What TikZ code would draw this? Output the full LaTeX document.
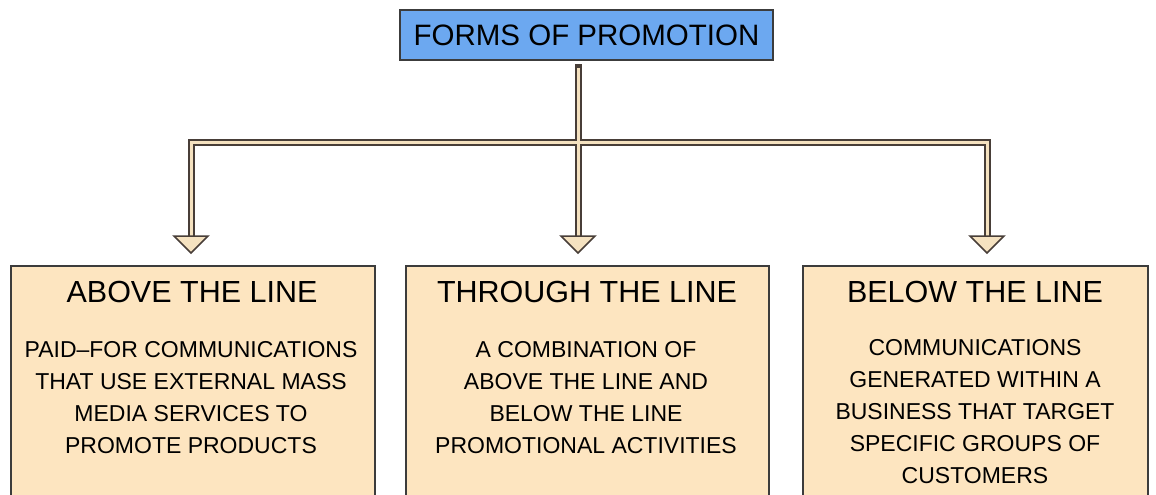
\documentclass[tikz,border=0pt]{standalone}
\usepackage{fontspec}
\setmainfont{Liberation Sans}
\usetikzlibrary{calc}
\definecolor{topblue}{RGB}{108,168,240}
\definecolor{peach}{RGB}{253,229,192}
\definecolor{cream}{RGB}{245,226,192}
\definecolor{darkline}{RGB}{72,62,56}
\definecolor{boxline}{RGB}{60,60,60}
\tikzset{
  box/.style={draw=boxline, line width=1.5pt, fill=peach, anchor=north west, inner sep=0pt},
  topbox/.style={draw=boxline, line width=1.5pt, fill=topblue, minimum width=373pt, minimum height=50pt, inner sep=0pt, font=\fontsize{29.5}{32}\selectfont},
  boxtitle/.style={font=\fontsize{30.5}{32}\selectfont, inner sep=0pt},
  boxbody/.style={font=\fontsize{23}{32}\selectfont, align=center, inner sep=0pt, anchor=north},
  outerline/.style={draw=darkline, line width=7pt, line cap=rect, line join=miter},
  innerline/.style={draw=cream, line width=3pt, line cap=butt, line join=miter},
  arrowhead/.style={draw=darkline, line width=1.5pt, fill=cream, line join=miter}
}
\begin{document}
\begin{tikzpicture}[x=1pt,y=-1pt]
\clip (0,0) rectangle (1156,495);
\fill[white] (0,0) rectangle (1156,495);
% boxes
\node[box, minimum width=364pt, minimum height=260pt] (boxA) at (10,265) {};
\node[box, minimum width=363pt, minimum height=260pt] (boxB) at (405,265) {};
\node[box, minimum width=345pt, minimum height=260pt] (boxC) at (802,265) {};
\node[topbox] (top) at (586.5,35) {FORMS OF PROMOTION};
% texts
\node[boxtitle] (tA) at (192,292) {ABOVE THE LINE};
\node[boxtitle] (tB) at (587,292) {THROUGH THE LINE};
\node[boxtitle] (tC) at (975,292) {BELOW THE LINE};
\node[boxbody] (bA) at (191,341) {PAID--FOR COMMUNICATIONS\\THAT USE EXTERNAL MASS\\MEDIA SERVICES TO\\PROMOTE PRODUCTS};
\node[boxbody] (bB) at (586,341) {A COMBINATION OF\\ABOVE THE LINE AND\\BELOW THE LINE\\PROMOTIONAL ACTIVITIES};
\node[boxbody] (bC) at (975,339) {COMMUNICATIONS\\GENERATED WITHIN A\\BUSINESS THAT TARGET\\SPECIFIC GROUPS OF\\CUSTOMERS};
% connector coordinates
\coordinate (s) at (578,68);
\coordinate (j) at (578,142);
\coordinate (hl) at (191,142);
\coordinate (hr) at (987,142);
\coordinate (eA) at (191,236);
\coordinate (eB) at (578,236);
\coordinate (eC) at (987,236);
% connectors: dark outer pass then cream inner pass
\draw[outerline] (s) -- (j);
\draw[outerline] (eA) -- (hl) -- (hr) -- (eC);
\draw[outerline] (j) -- (eB);
\draw[innerline] (s) -- (j);
\draw[innerline] (eA) -- (hl) -- (hr) -- (eC);
\draw[innerline] (j) -- (eB);
% arrowheads
\foreach \e in {eA,eB,eC}{
  \draw[arrowhead] ($(\e)+(-17,0)$) -- ($(\e)+(17,0)$) -- ($(\e)+(0,17)$) -- cycle;
}
\end{tikzpicture}
\end{document}
